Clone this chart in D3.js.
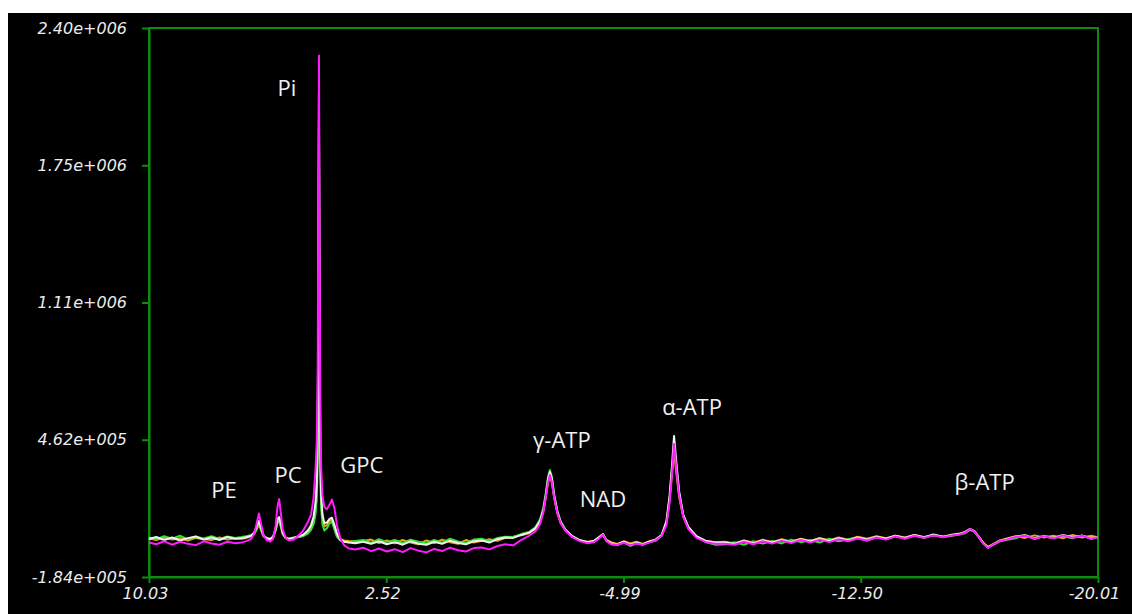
<!DOCTYPE html>
<html><head><meta charset="utf-8">
<script src="https://cdn.jsdelivr.net/npm/d3@7"></script>
<style>
html,body{margin:0;padding:0;background:#fff;}
svg{display:block;}
</style></head>
<body>
<svg id="chart" width="1132" height="614"></svg>
<script>
// chemical shift grid (ppm)
const ppm = [
 10.03, 9.8, 9.55, 9.3, 9.05, 8.8, 8.55, 8.3, 8.05, 7.8, 7.55, 7.3,
 7.1, 6.95, 6.8, 6.7, 6.62, 6.55, 6.48, 6.4, 6.3, 6.2,
 6.1, 6.02, 5.96, 5.91, 5.86, 5.8, 5.7, 5.6, 5.45, 5.3,
 5.15, 5.0, 4.9, 4.82, 4.76, 4.72, 4.69, 4.67, 4.65, 4.63, 4.61, 4.58, 4.54, 4.48, 4.4, 4.32, 4.24, 4.16, 4.08, 3.98, 3.85, 3.7, 3.5,
 3.25, 3.0, 2.75, 2.5, 2.25, 2.0, 1.75, 1.5, 1.25, 1.0, 0.75, 0.5, 0.25, 0.0, -0.25, -0.5, -0.75, -1.0, -1.25, -1.5,
 -1.75, -2.0, -2.2, -2.35, -2.45, -2.53, -2.6, -2.66, -2.72, -2.8, -2.9, -3.0, -3.15, -3.35, -3.6, -3.85,
 -4.05, -4.2, -4.34, -4.45, -4.6, -4.8, -5.0, -5.2, -5.4, -5.6, -5.8,
 -6.0, -6.2, -6.35, -6.45, -6.52, -6.59, -6.66, -6.75, -6.88, -7.05, -7.3, -7.6, -7.9,
 -8.2, -8.5, -8.8, -9.1, -9.4, -9.7, -10.0, -10.3, -10.6, -10.9, -11.2, -11.5, -11.8, -12.1, -12.4, -12.7, -13.0, -13.3, -13.6, -13.9, -14.2, -14.5, -14.8, -15.1, -15.4,
 -15.6, -15.8, -15.96, -16.1, -16.25, -16.4, -16.53, -16.7, -16.9, -17.1,
 -17.4, -17.7, -18.0, -18.3, -18.6, -18.9, -19.2, -19.5, -19.8, -20.01
];
// intensities in thousands
const orangeSeries = [
 -3, -10, 2, -8, -2, -12, 0, -6, -10, 2, -8, -2,
 -4, 0, 8, 18, 40, 65, 35, 6, -4, -8,
 2, 35, 72, 80, 55, 18, -2, -6, -2, 4,
 10, 28, 50, 85, 140, 230, 450, 1000, 2000, 900, 400, 180, 95, 55, 60, 80, 85, 50, 15, -5, -12, -15, -18,
 -15, -8, -24, -12, -26, -10, -22, -30, -12, -24, -8, -20, -28, -10, -22, -14, -6, -14, 0, 5,
 12, 22, 42, 75, 122, 190, 260, 291, 262, 185, 115, 70, 35, 8, -12, -18,
 -14, 0, 14, -10, -20, -28, -16, -26, -18, -28, -16,
 -8, 12, 70, 180, 300, 404, 310, 195, 100, 45, 6, -14, -20,
 -18, -26, -12, -22, -8, -20, -6, -18, -4, -14, 0, -12, 2, -8, 6, -4, 8, -2, 10, 2, 14, 4, 12, 6, 16,
 20, 24, 38, 30, 4, -26, -42, -28, -12, -4,
 8, 0, 12, 2, 10, -2, 14, 2, 10, 2
];
const greenSeries = [
 2, -6, 8, -4, 10, -7, 6, -3, 8, -5, 7, 0,
 4, 8, 12, 22, 45, 72, 40, 8, 0, -4,
 6, 40, 80, 88, 60, 22, 0, -3, 2, 5,
 8, 20, 38, 65, 110, 180, 380, 900, 1950, 800, 320, 140, 65, 35, 45, 68, 75, 40, 5, -12, -18, -20, -15,
 -10, -22, -6, -20, -10, -24, -8, -18, -26, -10, -22, -4, -17, -24, -8, -4, -16, 0, 6, 4,
 18, 28, 50, 88, 140, 210, 285, 320, 290, 200, 125, 78, 40, 10, -12, -22,
 -18, 0, 16, -14, -30, -34, -20, -38, -24, -32, -20,
 -14, 10, 70, 185, 310, 423, 340, 210, 105, 45, 5, -20, -32,
 -30, -20, -32, -16, -27, -14, -26, -8, -20, -10, -22, -4, -16, -6, 0, -12, 4, -6, 8, -2, 12, 0, 14, 4, 10,
 16, 22, 40, 28, 0, -30, -44, -32, -16, -10,
 -2, 14, -6, 10, 0, 8, -2, 12, -4, 4
];
const whiteSeries = [
 -5, 4, -10, 2, -12, -1, 7, -8, 2, -10, 4, -4,
 -2, 3, 10, 25, 55, 80, 45, 10, -2, -6,
 5, 45, 90, 98, 70, 25, 0, -5, 0, 8,
 15, 35, 60, 100, 165, 260, 500, 1100, 2100, 1000, 450, 200, 110, 70, 72, 88, 95, 60, 20, -8, -18, -22, -25,
 -18, -28, -16, -30, -20, -32, -16, -27, -32, -18, -28, -13, -24, -30, -16, -12, -22, -6, 2, 0,
 14, 25, 45, 80, 130, 200, 275, 310, 280, 195, 120, 75, 38, 10, -10, -20,
 -15, 2, 18, -12, -26, -30, -18, -32, -22, -30, -18,
 -10, 15, 80, 200, 330, 480, 360, 220, 110, 50, 8, -15, -22,
 -22, -28, -13, -26, -12, -22, -10, -20, -6, -17, -4, -14, -2, -12, 2, -8, 6, -4, 10, 0, 14, 2, 16, 6, 14,
 18, 28, 42, 32, 2, -28, -45, -30, -14, -6,
 6, 12, -2, 8, 0, 14, 3, 10, -2, 6
];
const magentaSeries = [
 -22, -30, -16, -32, -18, -28, -34, -16, -26, -32, -18, -25,
 -22, -15, -5, 20, 70, 115, 65, 10, -10, -18,
 -5, 60, 150, 183, 120, 40, 0, -12, -8, 10,
 35, 75, 110, 190, 320, 450, 800, 1500, 2270, 1400, 700, 330, 200, 145, 135, 155, 180, 140, 60, 0, -35, -50, -55,
 -46, -62, -50, -64, -53, -67, -48, -60, -68, -52, -62, -46, -58, -64, -48, -45, -54, -38, -30, -35,
 -10, 10, 30, 65, 120, 190, 260, 296, 265, 185, 115, 70, 35, 5, -15, -25,
 -20, -5, 15, -15, -30, -32, -23, -34, -26, -32, -22,
 -12, 10, 60, 170, 290, 442, 330, 200, 100, 40, 0, -20, -28,
 -27, -32, -18, -30, -16, -27, -13, -24, -10, -22, -8, -20, -6, -16, -3, -12, 2, -8, 7, -4, 10, 0, 12, 3, 12,
 15, 25, 42, 30, 0, -30, -47, -30, -15, -8,
 4, 10, -4, 8, -2, 12, 1, 10, -4, 5
];
const seriesNames = ["orange", "green", "white", "magenta"];
const seriesColors = ["#e8a317", "#33e033", "#f2f2f2", "#ff1aff"];
const yTicks = [-184000, 462000, 1108000, 1754000, 2400000];
const yTickLabels = ["-1.84e+005", "4.62e+005", "1.11e+006", "1.75e+006", "2.40e+006"];
const xTicks = [10.03, 2.52, -4.99, -12.50, -20.01];
const xTickLabels = ["10.03", "2.52", "-4.99", "-12.50", "-20.01"];
const peakLabels = ["Pi", "PE", "PC", "GPC", "γ-ATP", "NAD", "α-ATP", "β-ATP"];
const peakPpm = [4.65, 6.55, 5.91, 4.24, -2.66, -4.34, -6.59, -16.2];
const peakLabelValue = [2080000, 188000, 258000, 305000, 423000, 145000, 578000, 226000];

const svg = d3.select("#chart");
svg.append("rect").attr("x", 8).attr("y", 13).attr("width", 1124).attr("height", 601).attr("fill", "#000");

const L = 149, R = 1098, T = 28, B = 577;
const x = d3.scaleLinear().domain([10.03, -20.01]).range([L, R]);
const y = d3.scaleLinear().domain([-184000, 2400000]).range([B, T]);

const green = "#0c8c0c";
// frame
svg.append("rect").attr("x", L).attr("y", T).attr("width", R - L).attr("height", B - T)
  .attr("fill", "none").attr("stroke", green).attr("stroke-width", 2);

const yAxis = svg.append("g").attr("transform", `translate(${L},0)`)
  .call(d3.axisLeft(y).tickValues(yTicks).tickFormat((d, i) => yTickLabels[i]).tickSize(7).tickSizeOuter(0).tickPadding(15));
const xAxis = svg.append("g").attr("transform", `translate(0,${B})`)
  .call(d3.axisBottom(x).tickValues(xTicks).tickFormat((d, i) => xTickLabels[i]).tickSize(6).tickSizeOuter(0).tickPadding(5));
[yAxis, xAxis].forEach(g => {
  g.select(".domain").attr("stroke", green).attr("stroke-width", 2);
  g.selectAll(".tick line").attr("stroke", green).attr("stroke-width", 2);
  g.selectAll(".tick text").attr("fill", "#ececec")
    .style("font-family", "'DejaVu Sans', sans-serif").style("font-style", "italic")
    .style("font-size", "16px");
});
xAxis.selectAll(".tick text").attr("dx", "-4");

const allSeries = [orangeSeries, greenSeries, whiteSeries, magentaSeries];
const line = d3.line().x(d => x(d[0])).y(d => y(d[1] * 1000));
allSeries.forEach((s, k) => {
  const n = Math.min(ppm.length, s.length);
  const pts = d3.range(n).map(i => [ppm[i], s[i]]);
  svg.append("path").datum(pts).attr("d", line)
    .attr("fill", "none").attr("stroke", seriesColors[k])
    .attr("stroke-width", 2).attr("stroke-linejoin", "round")
    .attr("class", "series-" + seriesNames[k]);
});

// peak annotations
const labelDx = [-32, -35, 9, 30, 12, 0, 18, 7];
svg.append("g").selectAll("text").data(peakLabels).join("text")
  .attr("x", (d, i) => x(peakPpm[i]) + labelDx[i])
  .attr("y", (d, i) => y(peakLabelValue[i]))
  .attr("text-anchor", "middle")
  .attr("fill", "#f0f0f0")
  .style("font-family", "'Open Sans', 'Noto Sans', sans-serif")
  .style("font-size", "22px")
  .text(d => d);
</script>
</body></html>
